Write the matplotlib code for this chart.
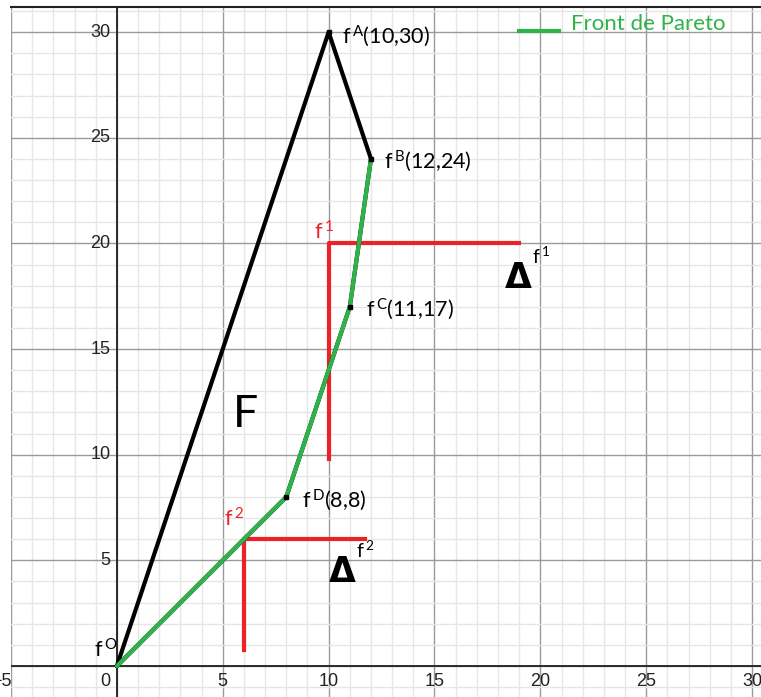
import numpy as np
import matplotlib.pyplot as plt
from matplotlib.ticker import MultipleLocator

plt.rcParams['font.family'] = ['Lato', 'DejaVu Sans']
plt.rcParams['mathtext.default'] = 'regular'

# sommets de l'espace des objectifs F
names = ['O', 'A', 'B', 'C', 'D']
fx = [0, 10, 12, 11, 8]
fy = [0, 30, 24, 17, 8]

# front de Pareto B -> C -> D -> O
pareto_x = [12, 11, 8, 0]
pareto_y = [24, 17, 8, 0]

# points de reference f1, f2 et leurs cones (x_fin, y_bas)
ref_x = [10, 6]
ref_y = [20, 6]
cone_xend = [19, 11.7]
cone_ybot = [9.8, 0.75]

xticks = [5, 10, 15, 20, 25, 30]
yticks = [5, 10, 15, 20, 25, 30]

GREEN = '#2db34a'
RED = '#ee2127'

W, H = 761, 697
fig = plt.figure(figsize=(W / 100, H / 100), dpi=100)
ax = fig.add_axes([11 / W, 0, 750 / W, 690 / H])
ax.set_xlim(-5, 30.42)
ax.set_ylim(-1.467, 31.19)

# grille type GeoGebra
ax.xaxis.set_major_locator(MultipleLocator(5))
ax.yaxis.set_major_locator(MultipleLocator(5))
ax.xaxis.set_minor_locator(MultipleLocator(1))
ax.yaxis.set_minor_locator(MultipleLocator(1))
ax.grid(which='minor', color='#e6e6e6', lw=1.0, zorder=0)
ax.grid(which='major', color='#9a9a9a', lw=1.0, zorder=0)
ax.set_axisbelow(True)
ax.tick_params(which='both', length=0, labelbottom=False, labelleft=False)
for s in ['left', 'right', 'bottom']:
    ax.spines[s].set_visible(False)
ax.spines['top'].set_color('#222222')
ax.spines['top'].set_linewidth(1.5)

ax.axhline(0, color='#2a2a2a', lw=1.4, zorder=1)
ax.axvline(0, color='#2a2a2a', lw=1.4, zorder=1)

# etiquettes des axes
tick_font = dict(family=['Liberation Sans', 'DejaVu Sans'], fontsize=13, color='#222222')
for v in yticks:
    ax.text(-0.3, v, str(v), ha='right', va='center', **tick_font)
for v in xticks:
    ax.text(v, -0.75, str(v), ha='center', va='center', **tick_font)
ax.text(-0.55, -0.75, '0', ha='center', va='center', **tick_font)
ax.text(-4.97, -0.75, '\u22125', ha='right', va='center', clip_on=False, **tick_font)

# polygone F
px = fx + [fx[0]]
py = fy + [fy[0]]
ax.plot(px, py, color='black', lw=3, solid_capstyle='round', zorder=3)
ax.plot(pareto_x, pareto_y, color=GREEN, lw=3, solid_capstyle='round', zorder=4)
ax.plot(fx[1:], fy[1:], 's', color='black', ms=3.5, zorder=5)

# cones rouges
for rx, ry, xe, yb in zip(ref_x, ref_y, cone_xend, cone_ybot):
    ax.plot([xe, rx, rx], [ry, ry, yb], color=RED, lw=3, zorder=2)

# etiquettes des points
lab = dict(fontsize=15.5, color='black', va='center', ha='left')
ax.text(10.65, 29.8, 'f$^{\\,A}$(10,30)', **lab)
ax.text(12.6, 23.9, 'f$^{\\,B}$(12,24)', **lab)
ax.text(11.75, 16.9, 'f$^{\\,C}$(11,17)', **lab)
ax.text(8.75, 7.85, 'f$^{\\,D}$(8,8)', **lab)
ax.text(-1.1, 0.75, 'f$^{\\,O}$', **lab)

ax.text(9.3, 20.55, 'f$^{\\,1}$', fontsize=15.5, color=RED, va='center', ha='left')
ax.text(5.05, 6.95, 'f$^{\\,2}$', fontsize=15.5, color=RED, va='center', ha='left')

ax.text(18.3, 18.35, '\u0394', fontsize=25, fontweight='bold', va='center', ha='left',
        family=['DejaVu Sans'])
ax.text(19.6, 19.4, 'f$^{\\,1}$', fontsize=14, va='center', ha='left')
ax.text(10.0, 4.45, '\u0394', fontsize=25, fontweight='bold', va='center', ha='left',
        family=['DejaVu Sans'])
ax.text(11.3, 5.5, 'f$^{\\,2}$', fontsize=14, va='center', ha='left')

ax.text(5.5, 11.9, 'F', fontsize=32, va='center', ha='left')

# legende
ax.plot([19.0, 20.9], [30.05, 30.05], color=GREEN, lw=3)
ax.text(21.45, 30.4, 'Front de Pareto', fontsize=16, color=GREEN, va='center', ha='left')

fig.savefig('out.png', dpi=100)
